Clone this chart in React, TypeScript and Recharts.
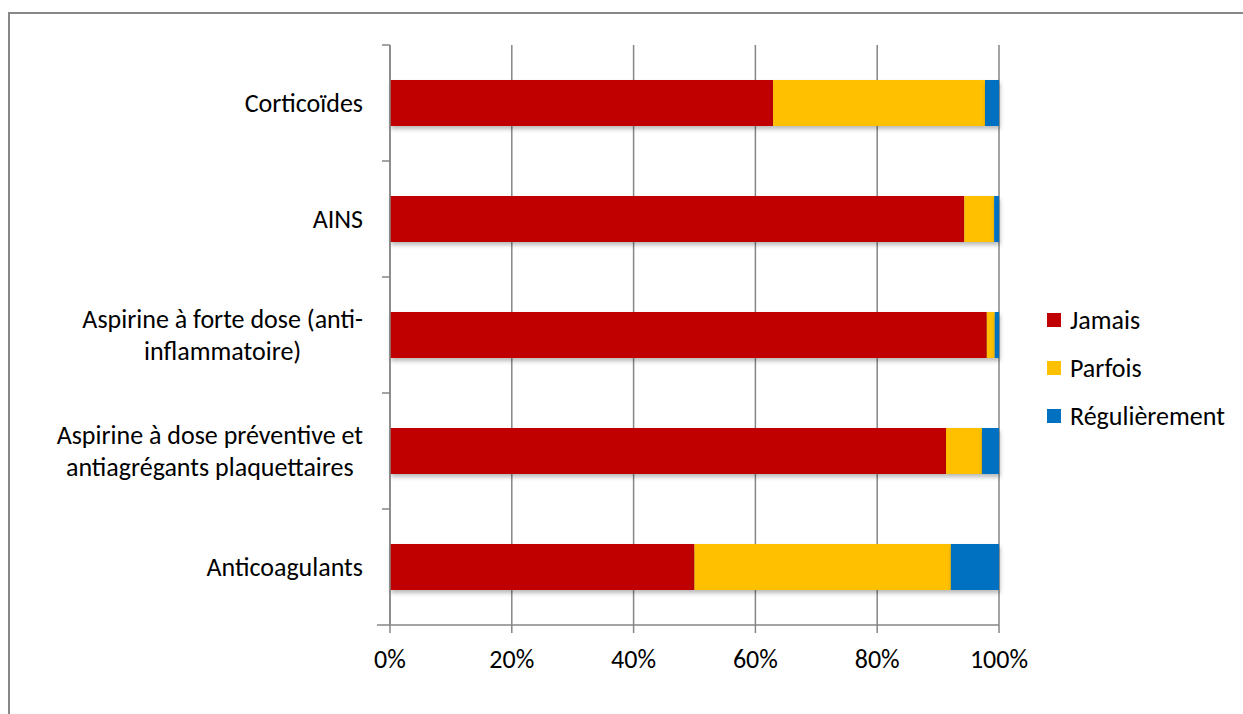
import { BarChart, Bar, XAxis, YAxis, CartesianGrid } from 'recharts';

const categories = [
  'Corticoïdes',
  'AINS',
  'Aspirine à forte dose (anti-\ninflammatoire)',
  'Aspirine à dose préventive et\nantiagrégants plaquettaires',
  'Anticoagulants',
];
const jamais = [62.9, 94.3, 98.0, 91.3, 50.0];
const parfois = [34.8, 4.9, 1.3, 5.9, 42.1];
const regulierement = [2.3, 0.8, 0.7, 2.8, 7.9];
const xTicks = [0, 20, 40, 60, 80, 100];

const seriesNames = ['Jamais', 'Parfois', 'Régulièrement'];
const seriesColors = ['#C00000', '#FFC000', '#0070C0'];

const FONT = 'Calibri, Carlito, Lato, sans-serif';
const FONT_SIZE = 26;
const GRAY = '#868686';
const W = 1243;
const H = 714;
const PLOT_TOP = 45;
const PLOT_BOTTOM = 625;
const PLOT_LEFT = 390;
const PLOT_RIGHT = 999;
const BAND = (PLOT_BOTTOM - PLOT_TOP) / categories.length;

const data = categories.map((c, i) => ({
  name: c,
  Jamais: jamais[i],
  Parfois: parfois[i],
  Regulierement: regulierement[i],
}));

let ctx: CanvasRenderingContext2D | null = null;
function textWidth(s: string): number {
  if (!ctx) ctx = document.createElement('canvas').getContext('2d');
  if (!ctx) return s.length * FONT_SIZE * 0.5;
  ctx.font = `${FONT_SIZE}px ${FONT}`;
  return ctx.measureText(s).width;
}

// category label: lines centred inside a block that is right-aligned against the axis
function CategoryTick(props: any) {
  const { x, y, payload, index } = props;
  const lines: string[] = String(payload.value).split('\n');
  const right = x - 27;
  const blockW = Math.max(...lines.map(textWidth));
  const cx = right - blockW / 2;
  const lh = 32;
  const y0 = y - ((lines.length - 1) * lh) / 2;
  return (
    <g>
      <line x1={x - 8} x2={x} y1={y - BAND / 2} y2={y - BAND / 2} stroke={GRAY} strokeWidth={1.5} />
      {index === categories.length - 1 && (
        <line x1={x - 13} x2={x} y1={y + BAND / 2} y2={y + BAND / 2} stroke={GRAY} strokeWidth={1.5} />
      )}
      {lines.map((l, i) => (
        <text
          key={i}
          x={lines.length > 1 ? cx : right}
          y={y0 + i * lh}
          dy="0.35em"
          textAnchor={lines.length > 1 ? 'middle' : 'end'}
          fontFamily={FONT}
          fontSize={FONT_SIZE}
          fill="#000"
        >
          {l}
        </text>
      ))}
    </g>
  );
}

function PercentTick(props: any) {
  const { x, y, payload } = props;
  return (
    <text x={x} y={y + 33} textAnchor="middle" fontFamily={FONT} fontSize={FONT_SIZE} fill="#000">
      {`${payload.value}%`}
    </text>
  );
}

function ShadowBar(props: any) {
  const { x, y, width, height, fill } = props;
  if (!width || width <= 0) return null;
  return (
    <rect
      x={x}
      y={y}
      width={width}
      height={height}
      fill={fill}
      style={{ filter: 'drop-shadow(1px 3px 2px rgba(0,0,0,0.28))' }}
    />
  );
}

export default function App() {
  return (
    <div style={{ position: 'absolute', left: 0, top: 0, width: W, height: H, background: '#fff', overflow: 'hidden' }}>
      <div
        style={{
          position: 'absolute',
          left: 8,
          top: 12,
          width: W,
          height: H,
          borderTop: '2px solid #878787',
          borderLeft: '2px solid #878787',
        }}
      />
      <div style={{ position: 'absolute', left: 0, top: 0 }}>
        <BarChart
          width={W}
          height={H}
          data={data}
          layout="vertical"
          margin={{ top: PLOT_TOP, right: W - PLOT_RIGHT, bottom: 0, left: 0 }}
          barSize={46}
        >
          <CartesianGrid horizontal={false} stroke={GRAY} strokeWidth={1.5} />
          <XAxis
            type="number"
            domain={[0, 100]}
            ticks={xTicks}
            interval={0}
            height={H - PLOT_BOTTOM}
            axisLine={{ stroke: GRAY, strokeWidth: 1.5 }}
            tickLine={{ stroke: GRAY, strokeWidth: 1.5 }}
            tickSize={8}
            tickMargin={2}
            tick={<PercentTick />}
          />
          <YAxis
            type="category"
            dataKey="name"
            width={PLOT_LEFT}
            axisLine={{ stroke: GRAY, strokeWidth: 1.5 }}
            tickLine={false}
            tickSize={0}
            tickMargin={0}
            interval={0}
            tick={<CategoryTick />}
          />
          <Bar dataKey="Jamais" name={seriesNames[0]} stackId="a" fill={seriesColors[0]} shape={<ShadowBar />} isAnimationActive={false} />
          <Bar dataKey="Parfois" name={seriesNames[1]} stackId="a" fill={seriesColors[1]} shape={<ShadowBar />} isAnimationActive={false} />
          <Bar dataKey="Regulierement" name={seriesNames[2]} stackId="a" fill={seriesColors[2]} shape={<ShadowBar />} isAnimationActive={false} />
        </BarChart>
      </div>
      <div style={{ position: 'absolute', left: 1047, top: 296, fontFamily: FONT, fontSize: FONT_SIZE, color: '#000' }}>
        {seriesNames.map((n, i) => (
          <div key={n} style={{ display: 'flex', alignItems: 'center', height: 48 }}>
            <span style={{ width: 14, height: 14, background: seriesColors[i], marginRight: 9, display: 'inline-block' }} />
            <span>{n}</span>
          </div>
        ))}
      </div>
    </div>
  );
}
